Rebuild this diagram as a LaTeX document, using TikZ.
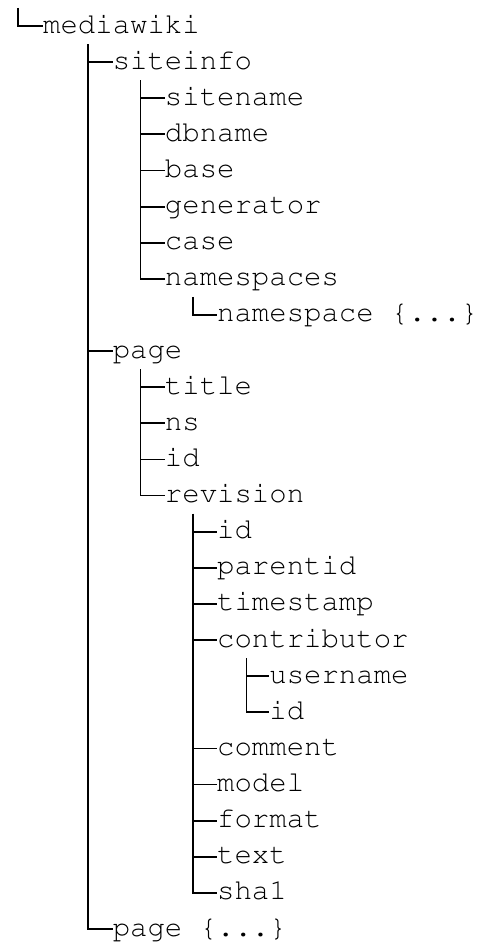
\documentclass[tikz,border=0pt]{standalone}
\usepackage[T1]{fontenc}
\usepackage{courier}
\tikzset{
  entry/.style={anchor=west, inner sep=0pt, text height=20pt, text depth=6pt,
    font=\ttfamily\fontsize{29}{36}\selectfont},
  branch/.style={line width=1.8pt}
}
\begin{document}
\begin{tikzpicture}[x=17.4pt, y=-36.12pt]
          \useasboundingbox (-2.471,-0.72) rectangle (25.057,25.36);
          % root
            \node[entry] (mediawiki) at (0,0) {mediawiki};
            \coordinate (root-v) at (-1.45,-0.5);
            \draw[branch] (root-v) |- (mediawiki.west);
          % top level
            \node[entry] (siteinfo) at (4,1) {siteinfo};
            \node[entry] (page) at (4,9) {page};
            \node[entry] (page-more) at (4,25) {page \{...\}};
            \coordinate (mediawiki-v) at (2.6,0.5);
            \draw[branch] (mediawiki-v) |- (page-more.west);
            \foreach \n in {siteinfo, page} {
              \draw[branch] (mediawiki-v |- \n.west) -- (\n.west);
            }
          % siteinfo
            \foreach \n/\r in {sitename/2, dbname/3, base/4, generator/5, case/6, namespaces/7} {
              \node[entry] (\n) at (7,\r) {\n};
            }
            \coordinate (siteinfo-v) at (5.6,1.5);
            \draw[branch] (siteinfo-v) |- (namespaces.west);
            \foreach \n in {sitename, dbname, base, generator, case} {
              \draw[branch] (siteinfo-v |- \n.west) -- (\n.west);
            }
          % namespaces
            \node[entry] (namespace) at (10,8) {namespace \{...\}};
            \coordinate (namespaces-v) at (8.6,7.5);
            \draw[branch] (namespaces-v) |- (namespace.west);
          % page
            \foreach \n/\t/\r in {title/title/10, ns/ns/11, page-id/id/12, revision/revision/13} {
              \node[entry] (\n) at (7,\r) {\t};
            }
            \coordinate (page-v) at (5.6,9.5);
            \draw[branch] (page-v) |- (revision.west);
            \foreach \n in {title, ns, page-id} {
              \draw[branch] (page-v |- \n.west) -- (\n.west);
            }
          % revision
            \foreach \n/\t/\r in {rev-id/id/14, parentid/parentid/15, timestamp/timestamp/16,
                contributor/contributor/17, comment/comment/20, model/model/21,
                format/format/22, text/text/23, sha1/sha1/24} {
              \node[entry] (\n) at (10,\r) {\t};
            }
            \coordinate (revision-v) at (8.6,13.5);
            \draw[branch] (revision-v) |- (sha1.west);
            \foreach \n in {rev-id, parentid, timestamp, contributor, comment, model, format, text} {
              \draw[branch] (revision-v |- \n.west) -- (\n.west);
            }
          % contributor
            \node[entry] (username) at (13,18) {username};
            \node[entry] (user-id) at (13,19) {id};
            \coordinate (contributor-v) at (11.7,17.5);
            \draw[branch] (contributor-v) |- (user-id.west);
            \draw[branch] (contributor-v |- username.west) -- (username.west);
          \end{tikzpicture}
\end{document}
